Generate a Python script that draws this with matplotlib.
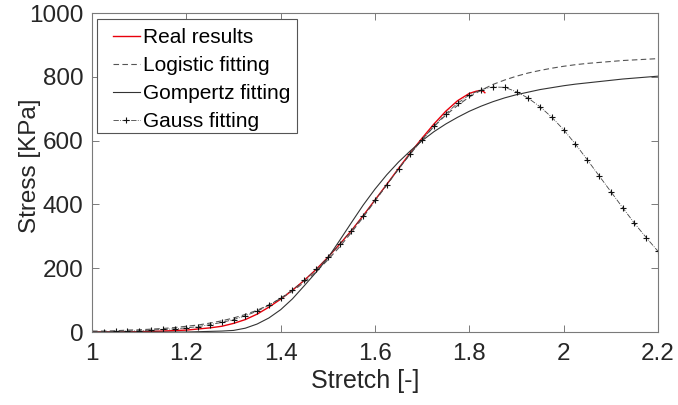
import numpy as np
import matplotlib.pyplot as plt
from matplotlib.patches import Rectangle

plt.rcParams['font.family'] = ['Liberation Sans', 'DejaVu Sans']

### Stretch grid used by the fitted curves
stretch = [1.000, 1.025, 1.050, 1.075, 1.100, 1.125, 1.150, 1.175, 1.200, 1.225,
           1.250, 1.275, 1.300, 1.325, 1.350, 1.375, 1.400, 1.425, 1.450, 1.475,
           1.500, 1.525, 1.550, 1.575, 1.600, 1.625, 1.650, 1.675, 1.700, 1.725,
           1.750, 1.775, 1.800, 1.825, 1.850, 1.875, 1.900, 1.925, 1.950, 1.975,
           2.000, 2.025, 2.050, 2.075, 2.100, 2.125, 2.150, 2.175, 2.200]

logistic = [3, 3, 4, 6, 7, 9, 11, 14, 18, 22,
            28, 35, 44, 55, 68, 85, 105, 128, 156, 189,
            226, 267, 312, 360, 411, 461, 511, 559, 604, 644,
            680, 710, 737, 758, 776, 790, 802, 812, 820, 827,
            833, 838, 842, 845, 848, 851, 853, 855, 857]

gompertz = [0, 0, 0, 0, 0, 0, 0, 0, 0, 1,
            2, 3, 5, 12, 25, 44, 70, 104, 145, 187,
            232, 287, 343, 398, 448, 493, 533, 568, 600, 628,
            652, 673, 692, 708, 722, 734, 744, 752, 760, 766,
            772, 777, 781, 785, 789, 793, 796, 799, 802]

gauss = [0, 1, 2, 3, 4, 6, 8, 10, 13, 17,
         23, 30, 39, 51, 65, 84, 106, 132, 162, 196,
         234, 275, 318, 364, 413, 462, 511, 558, 603, 645,
         684, 717, 743, 760, 768, 767, 753, 733, 706, 673,
         634, 589, 540, 490, 440, 390, 341, 296, 253]

### Measured curve
real_x = [1.000, 1.050, 1.100, 1.150, 1.200, 1.250, 1.275, 1.300, 1.325, 1.350,
          1.375, 1.400, 1.425, 1.450, 1.475, 1.500, 1.525, 1.550, 1.575, 1.600,
          1.625, 1.650, 1.675, 1.700, 1.725, 1.750, 1.775, 1.800, 1.815, 1.825,
          1.830, 1.833]
real_y = [0, 0.5, 1, 3, 6, 13, 18, 27, 39, 56,
          78, 103, 131, 162, 196, 234, 275, 318, 365, 414,
          463, 513, 562, 608, 652, 692, 725, 748, 755, 757,
          754, 750]

fig, ax = plt.subplots(figsize=(6.78, 4.05), dpi=100)
fig.subplots_adjust(left=0.1357, right=0.9705, bottom=0.1802, top=0.9679)

ax.plot(real_x, real_y, color='#e8000b', lw=1.0, label='Real results')
ax.plot(stretch, logistic, color='#555555', lw=0.8, ls=(0, (5, 3)), label='Logistic fitting')
ax.plot(stretch, gompertz, color='#333333', lw=0.8, label='Gompertz fitting')
ax.plot(stretch, gauss, color='#444444', lw=0.6, ls='-.', marker='+',
        markersize=5, markeredgewidth=0.8, markeredgecolor='#111111', label='Gauss fitting')

ax.set_xlim(1, 2.2)
ax.set_ylim(0, 1000)
ax.set_xticks([1, 1.2, 1.4, 1.6, 1.8, 2, 2.2])
ax.set_xticklabels(['1', '1.2', '1.4', '1.6', '1.8', '2', '2.2'])
ax.set_yticks([0, 200, 400, 600, 800, 1000])

for s in ax.spines.values():
    s.set_color('#7a7a7a')
    s.set_linewidth(0.8)
ax.tick_params(direction='in', top=True, right=True, length=5, width=0.7,
               color='#7a7a7a', labelsize=17.5, labelcolor='#262626')
ax.tick_params(axis='x', pad=8)
ax.tick_params(axis='y', pad=6)

ax.set_xlabel('Stretch [-]', fontsize=18, color='#262626')
ax.set_ylabel('Stress [KPa]', fontsize=17.5, color='#262626')
ax.xaxis.set_label_coords(0.483, -0.117)
ax.yaxis.set_label_coords(-0.09, 0.52)

# legend box drawn separately so the padding can differ per side
ax.add_patch(Rectangle((0.0094, 0.625), 0.352, 0.355, transform=ax.transAxes,
                       facecolor='white', edgecolor='#555555', lw=0.8, zorder=4))
leg = ax.legend(loc='upper left', bbox_to_anchor=(0.037, 0.952), fontsize=15,
                frameon=False, borderaxespad=0, borderpad=0,
                handlelength=1.3, handletextpad=0.15, labelspacing=0.43,
                numpoints=1)
leg.set_zorder(5)

plt.savefig('out.png', dpi=100)
